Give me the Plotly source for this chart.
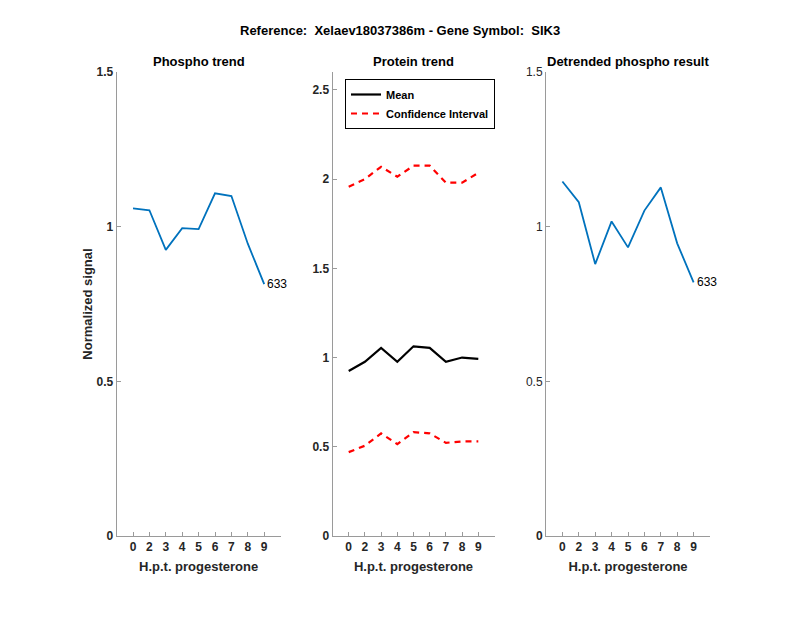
import plotly.graph_objects as go

hpt = ["0", "2", "3", "4", "5", "6", "7", "8", "9"]
phospho = [1.059, 1.053, 0.925, 0.995, 0.992, 1.108, 1.099, 0.945, 0.814]
protein_mean = [0.925, 0.976, 1.054, 0.976, 1.063, 1.054, 0.976, 1.0, 0.993]
protein_upper = [1.957, 2.0, 2.069, 2.013, 2.075, 2.075, 1.98, 1.98, 2.035]
protein_lower = [0.470, 0.506, 0.575, 0.515, 0.582, 0.575, 0.522, 0.530, 0.530]
detrended = [1.146, 1.079, 0.879, 1.017, 0.933, 1.052, 1.127, 0.946, 0.820]
peptide_label = "633"

FONT = "Liberation Sans, Arial, sans-serif"
TXT = "#262626"
AX = "#9a9a9a"
BLUE = "#0072BD"

fig = go.Figure()

fig.add_trace(go.Scatter(x=hpt, y=phospho, mode="lines", line=dict(color=BLUE, width=1.8),
                         showlegend=False, xaxis="x", yaxis="y"))
fig.add_trace(go.Scatter(x=hpt, y=protein_mean, mode="lines", name="Mean",
                         line=dict(color="black", width=2.2), xaxis="x2", yaxis="y2"))
fig.add_trace(go.Scatter(x=hpt, y=protein_upper, mode="lines", name="Confidence Interval",
                         line=dict(color="red", width=2.2, dash="6px,5px"), xaxis="x2", yaxis="y2"))
fig.add_trace(go.Scatter(x=hpt, y=protein_lower, mode="lines", name="Confidence Interval",
                         line=dict(color="red", width=2.2, dash="6px,5px"), showlegend=False,
                         xaxis="x2", yaxis="y2"))
fig.add_trace(go.Scatter(x=hpt, y=detrended, mode="lines", line=dict(color=BLUE, width=1.8),
                         showlegend=False, xaxis="x3", yaxis="y3"))

W = 800.0
H = 618.0
OFF = 8.0  # page body margin
ydom = [(H - (536 - OFF)) / H, (H - (72 - OFF)) / H]
xdoms = [[(116.6 - OFF) / W, (280.6 - OFF) / W],
         [(332.5 - OFF) / W, (494.5 - OFF) / W],
         [(546.0 - OFF) / W, (710.0 - OFF) / W]]

def xaxis(dom, anchor):
    return dict(domain=dom, anchor=anchor, type="category", range=[-1, 9], automargin=False,
                showline=True, linecolor=AX, linewidth=1, ticks="inside", ticklen=4,
                tickcolor=AX, showgrid=False, zeroline=False,
                tickfont=dict(family=FONT, size=12, color=TXT, weight="bold"),
                title=dict(text="<b>H.p.t. progesterone</b>", standoff=8,
                           font=dict(family=FONT, size=13, color=TXT)))

def yaxis(anchor, rng, tickvals, ticktext, bold=True):
    return dict(domain=ydom, anchor=anchor, range=rng, showline=True, linecolor=AX,
                linewidth=1, ticks="inside", ticklen=4, tickcolor=AX, showgrid=False,
                zeroline=False, tickvals=tickvals, ticktext=ticktext, automargin=False,
                tickfont=dict(family=FONT, size=12, color=TXT, weight="bold" if bold else "normal"))

fig.update_layout(
    width=800, height=618, margin=dict(l=0, r=0, t=0, b=0, autoexpand=False),
    paper_bgcolor="white", plot_bgcolor="white",
    font=dict(family=FONT, color=TXT),
    xaxis=xaxis(xdoms[0], "y"),
    xaxis2=xaxis(xdoms[1], "y2"),
    xaxis3=xaxis(xdoms[2], "y3"),
    yaxis=dict(**yaxis("x", [0, 1.5], [0, 0.5, 1, 1.5], ["0", "0.5", "1", "1.5"]),
               title=dict(text="<b>Normalized signal</b>", standoff=0,
                          font=dict(family=FONT, size=13, color=TXT))),
    yaxis2=yaxis("x2", [0, 2.6], [0, 0.5, 1, 1.5, 2, 2.5], ["0", "0.5", "1", "1.5", "2", "2.5"]),
    yaxis3=yaxis("x3", [0, 1.5], [0, 0.5, 1, 1.5], ["<b>0</b>", "0.5", "1", "1.5"], bold=False),
    legend=dict(x=(345 - OFF) / W, y=1 - (79 - OFF) / H, xanchor="left", yanchor="top",
                bordercolor="black", borderwidth=1, bgcolor="white",
                font=dict(family=FONT, size=11, color="black", weight="bold"),
                tracegroupgap=0, itemwidth=30),
    showlegend=True,
)

last = len(hpt) - 1
def title_ann(text, x, y):
    return dict(text=text, x=x, y=1 - (y - OFF) / H, xref="paper", yref="paper",
                xanchor="center", yanchor="middle", showarrow=False,
                font=dict(family=FONT, size=13, color="black"))

annots = [
    title_ann("<b>Reference:  Xelaev18037386m - Gene Symbol:  SIK3</b>", (400 - OFF) / W, 30),
    title_ann("<b>Phospho trend</b>", (xdoms[0][0] + xdoms[0][1]) / 2, 61),
    title_ann("<b>Protein trend</b>", (xdoms[1][0] + xdoms[1][1]) / 2, 61),
    title_ann("<b>Detrended phospho result</b>", (xdoms[2][0] + xdoms[2][1]) / 2, 61),
    dict(text=peptide_label, x=last, y=phospho[-1], xref="x", yref="y", showarrow=False,
         xanchor="left", xshift=1, font=dict(family=FONT, size=12, color="black")),
    dict(text=peptide_label, x=last, y=detrended[-1], xref="x3", yref="y3", showarrow=False,
         xanchor="left", xshift=1, font=dict(family=FONT, size=12, color="black")),
]
fig.update_layout(annotations=annots)

fig.write_html("out.html")
